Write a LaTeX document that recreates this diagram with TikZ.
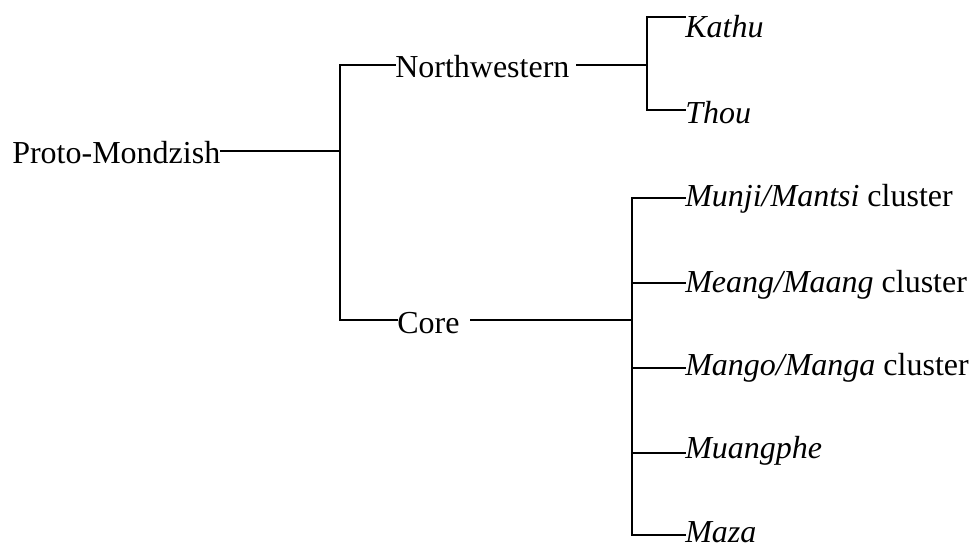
\documentclass[tikz,border=0pt]{standalone}
\usepackage{fontspec}
\setmainfont{Liberation Serif}
\usetikzlibrary{calc}
\begin{document}
\begin{tikzpicture}[x=0.75pt,y=-0.75pt,
  lbl/.style={inner sep=0pt, anchor=base west, font=\fontsize{24}{28}\selectfont},
  ln/.style={line width=1.5pt, line cap=rect}]
\useasboundingbox (0,0) rectangle (970,546);
% labels
\node[lbl] (pm) at (12,163) {Proto-Mondzish};
\node[lbl] (nw) at (395,77) {Northwestern};
\node[lbl] (core) at (397,333) {Core};
\node[lbl] (kathu) at (685,37) {\textit{Kathu}};
\node[lbl] (thou) at (685,123) {\textit{Thou}};
\node[lbl] (munji) at (685,206) {\textit{Munji/Mantsi} cluster};
\node[lbl] (meang) at (685,292) {\textit{Meang/Maang} cluster};
\node[lbl] (mango) at (685,375) {\textit{Mango/Manga} cluster};
\node[lbl] (muang) at (685,458) {\textit{Muangphe}};
\node[lbl] (maza) at (685,542) {\textit{Maza}};
% junction points
\coordinate (rootJ) at (340,151);
\coordinate (rootT) at (340,65);
\coordinate (rootB) at (340,320);
\coordinate (nwJ) at (647,65);
\coordinate (nwT) at (647,17);
\coordinate (nwB) at (647,110);
\coordinate (coJ) at (632,320);
\coordinate (co1) at (632,198);
\coordinate (co2) at (632,283);
\coordinate (co3) at (632,368);
\coordinate (co4) at (632,453);
\coordinate (co5) at (632,535);
% root
\draw[ln] (pm.east |- rootJ) -- (rootJ);
\draw[ln] (rootT) -- (rootB);
\draw[ln] (rootT) -- (nw.west |- rootT);
\draw[ln] (rootB) -- (core.west |- rootB);
% northwestern
\draw[ln] ($(nw.east |- nwJ)+(7,0)$) -- (nwJ);
\draw[ln] (nwT) -- (nwB);
\draw[ln] (nwT) -- (kathu.west |- nwT);
\draw[ln] (nwB) -- (thou.west |- nwB);
% core
\draw[ln] ($(core.east |- coJ)+(11,0)$) -- (coJ);
\draw[ln] (co1) -- (co5);
\draw[ln] (co1) -- (munji.west |- co1);
\draw[ln] (co2) -- (meang.west |- co2);
\draw[ln] (co3) -- (mango.west |- co3);
\draw[ln] (co4) -- (muang.west |- co4);
\draw[ln] (co5) -- (maza.west |- co5);
\end{tikzpicture}
\end{document}
